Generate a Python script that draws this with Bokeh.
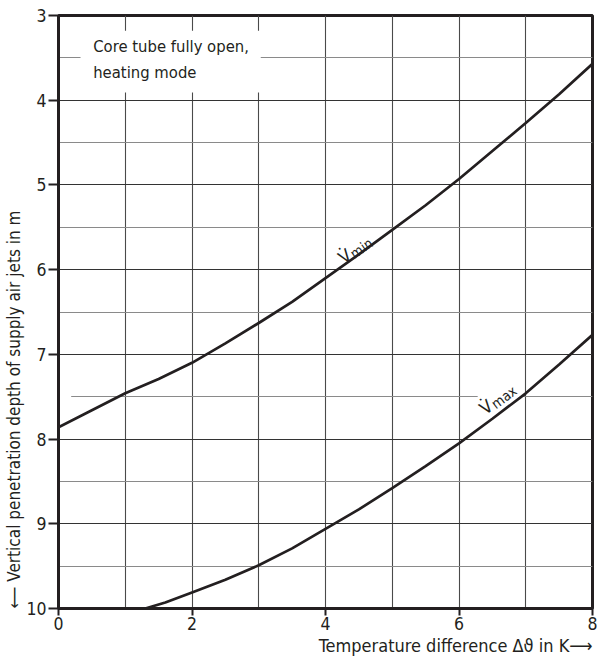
import math
from bokeh.plotting import figure
from bokeh.models import Range1d, FixedTicker, Grid, Title
from bokeh.core.properties import value
from bokeh.embed import file_html
from bokeh.resources import INLINE

# ---- data ----
vmin_x = [0, 0.5, 1, 1.5, 2, 2.5, 3, 3.5, 4, 4.5, 5, 5.5, 6, 6.5, 7, 7.5, 8]
vmin_y = [7.86, 7.66, 7.46, 7.29, 7.10, 6.87, 6.63, 6.38, 6.10, 5.82, 5.53, 5.24, 4.93, 4.60, 4.27, 3.93, 3.57]
vmax_x = [1.3, 1.6, 2, 2.5, 3, 3.5, 4, 4.5, 5, 5.5, 6, 6.5, 7, 7.5, 8]
vmax_y = [10.0, 9.93, 9.81, 9.66, 9.49, 9.29, 9.06, 8.83, 8.58, 8.32, 8.05, 7.76, 7.46, 7.12, 6.77]
x_ticks = [0, 2, 4, 6, 8]
y_ticks = [3, 4, 5, 6, 7, 8, 9, 10]
x_grid = [1, 2, 3, 4, 5, 6, 7]
y_grid_major = [4, 5, 6, 7, 8, 9]
y_grid_minor = [3.5, 4.5, 5.5, 6.5, 7.5, 8.5, 9.5]
note_lines = ["Core tube fully open,", "heating mode"]
x_title = "Temperature difference \u0394\u03d1 in K\u27f6"
y_title = "\u27f5 Vertical penetration depth of supply air jets  in m"

FONT = "DejaVu Sans Condensed"
INK = "#231f20"

p = figure(frame_width=534, frame_height=593, output_backend="svg",
           toolbar_location=None, min_border_left=58, min_border_top=15,
           min_border_right=5, min_border_bottom=51,
           x_range=Range1d(0, 8), y_range=Range1d(10, 3))
p.background_fill_color = "white"
p.outline_line_color = INK
p.outline_line_width = 3

# axes
for ax in (p.xaxis, p.yaxis):
    ax.axis_line_color = INK
    ax.axis_line_width = 3
    ax.major_tick_line_color = INK
    ax.major_tick_line_width = 2
    ax.minor_tick_line_color = None
    ax.major_tick_in = 0
    ax.axis_label_standoff = 0
    ax.major_label_text_font = FONT
    ax.major_label_text_font_size = "17.5px"
    ax.major_label_text_color = INK
p.xaxis.ticker = FixedTicker(ticks=x_ticks)
p.yaxis.ticker = FixedTicker(ticks=y_ticks)
p.xaxis.major_tick_out = 7
p.yaxis.major_tick_out = 10
p.xaxis.major_label_standoff = 1
p.yaxis.major_label_standoff = 2

# grids
p.xgrid.ticker = FixedTicker(ticks=x_grid)
p.xgrid.grid_line_color = "#4a4a4a"
p.xgrid.grid_line_width = 1.1
p.ygrid.ticker = FixedTicker(ticks=y_grid_major)
p.ygrid.grid_line_color = "#333333"
p.ygrid.grid_line_width = 1.1
p.add_layout(Grid(dimension=1, ticker=FixedTicker(ticks=y_grid_minor),
                  grid_line_color="#8a8a8a", grid_line_width=1.1))

# white patches that interrupt the grid behind labels
p.quad(left=[0.33, 0.0, 6.28], right=[3.03, 0.19, 6.95],
       top=[3.18, 7.45, 7.45], bottom=[3.91, 7.55, 7.55],
       fill_color="white", line_color=None)

# curves
p.line(vmin_x, vmin_y, line_color=INK, line_width=2.7)
p.line(vmax_x, vmax_y, line_color=INK, line_width=2.7)

# note text
p.text(x=[0.52, 0.52], y=[3.37, 3.67], text=note_lines,
       text_font=value(FONT), text_font_size="16.5px", text_color=INK,
       text_align="left", text_baseline="middle")

# curve labels: V with dot + subscript
def curve_label(x, y, sub, angle_deg):
    th = math.radians(angle_deg)
    p.text(x=[x], y=[y], text=["V\u0307"], angle=th,
           text_font=value(FONT), text_font_size="18px", text_color=INK,
           text_align="left", text_baseline="alphabetic")
    w, d = 12.0, 3.0
    dx = w * math.cos(th) + d * math.sin(th)
    dy = -w * math.sin(th) + d * math.cos(th)
    p.text(x=[x], y=[y], text=[sub], angle=th, x_offset=dx, y_offset=dy,
           text_font=value(FONT), text_font_size="14px", text_color=INK,
           text_align="left", text_baseline="alphabetic")

curve_label(4.22, 5.88, "min", 35)
curve_label(6.34, 7.66, "max", 37)

# axis titles as side titles
p.add_layout(Title(text=x_title, align="right", text_font=FONT,
                   text_font_size="18px", text_font_style="normal",
                   text_color=INK, standoff=0), "below")
p.add_layout(Title(text=y_title, align="left", text_font=FONT,
                   text_font_size="17px", text_font_style="normal",
                   text_color=INK, standoff=0), "left")

open("out.html", "w").write(file_html(p, INLINE))
